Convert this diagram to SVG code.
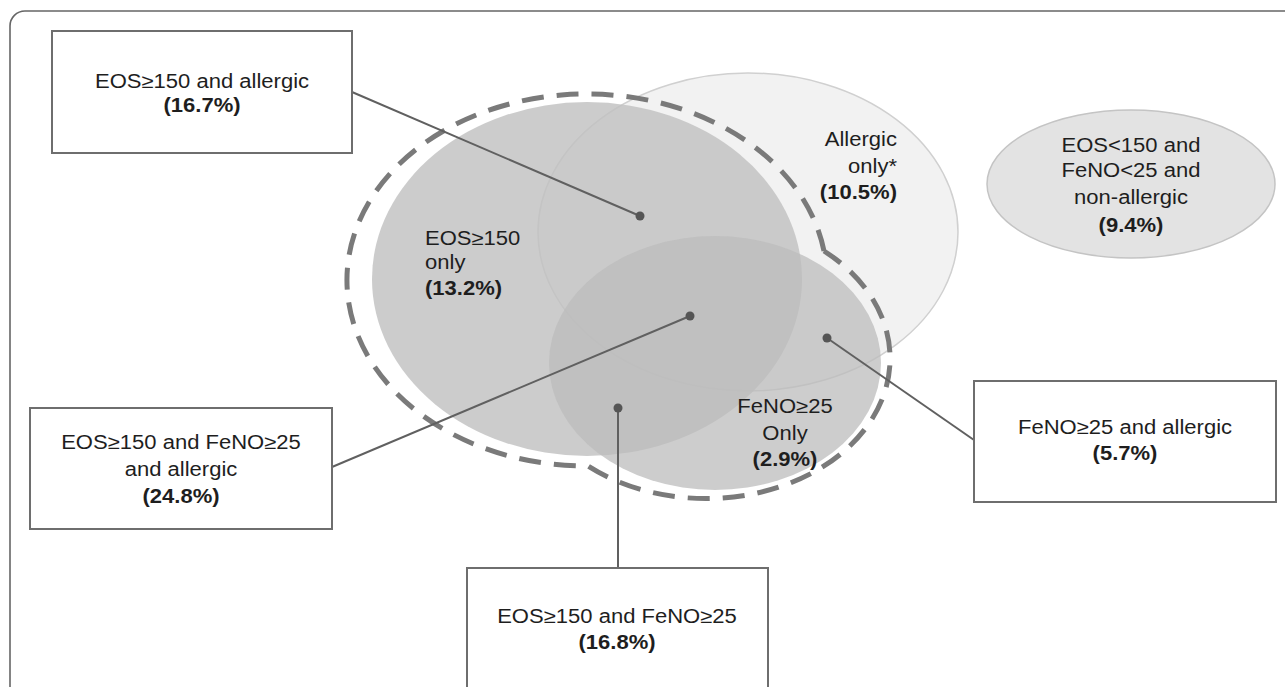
<svg xmlns="http://www.w3.org/2000/svg" width="1285" height="687" viewBox="0 0 1285 687">
<style>
text{font-family:"Liberation Sans",Arial,sans-serif;font-size:19.5px;fill:#1e1e1e}
.b{font-weight:bold}
.box{fill:#fff;stroke:#6e6e6e;stroke-width:2}
.con{stroke:#606060;stroke-width:2;fill:none}
.dot{fill:#555}
</style>
<rect x="10" y="11" width="1300" height="720" rx="15" fill="#fff" stroke="#666" stroke-width="1.6"/>
<g id="venn">
<ellipse id="allergic" cx="748" cy="232" rx="210" ry="159" fill="#f2f2f2" stroke="#d0d0d0" stroke-width="1.5"/>
<ellipse id="eos" cx="587" cy="279" rx="215" ry="177" fill="#c1c1c1" fill-opacity="0.82"/>
<ellipse id="feno" cx="715" cy="363" rx="166" ry="127" fill="#bcbcbc" fill-opacity="0.745"/>
<path id="dashed" d="M 824 251 A 240 186 0 1 0 588 466 A 184 140 0 1 0 824 251" fill="none" stroke="#7a7a7a" stroke-width="5" stroke-dasharray="22 13"/>
</g>
<g id="label-eos-only"><text transform="translate(425,244.5) scale(1.13,1)"><tspan x="0" y="0">EOS≥150</tspan><tspan x="0" dy="25">only</tspan><tspan class="b" x="0" dy="26">(13.2%)</tspan></text></g>
<g id="label-allergic-only"><text text-anchor="end" transform="translate(897,146) scale(1.13,1)"><tspan x="0" y="0">Allergic</tspan><tspan x="0" dy="27">only*</tspan><tspan class="b" x="0" dy="26">(10.5%)</tspan></text></g>
<g id="label-feno-only"><text text-anchor="middle" transform="translate(785,413) scale(1.13,1)"><tspan x="0" y="0">FeNO≥25</tspan><tspan x="0" dy="27">Only</tspan><tspan class="b" x="0" dy="26">(2.9%)</tspan></text></g>
<g id="none">
<ellipse cx="1131" cy="184" rx="144" ry="74" fill="#e3e3e3" stroke="#c4c4c4" stroke-width="1.5"/>
<text text-anchor="middle" transform="translate(1131,152) scale(1.13,1)"><tspan x="0" y="0">EOS&lt;150 and</tspan><tspan x="0" dy="25.5">FeNO&lt;25 and</tspan><tspan x="0" dy="26.5">non-allergic</tspan><tspan class="b" x="0" dy="28">(9.4%)</tspan></text>
</g>
<g id="connectors">
<line class="con" x1="352" y1="92" x2="640" y2="216"/>
<line class="con" x1="332" y1="467" x2="690" y2="316"/>
<line class="con" x1="618" y1="408" x2="618" y2="568"/>
<line class="con" x1="827" y1="338" x2="974" y2="440"/>
<circle class="dot" cx="640" cy="216" r="4.5"/>
<circle class="dot" cx="690" cy="316" r="4.5"/>
<circle class="dot" cx="618" cy="408" r="4.5"/>
<circle class="dot" cx="827" cy="338" r="4.5"/>
</g>
<g id="box-eos-allergic">
<rect class="box" x="52" y="31" width="300" height="122"/>
<text text-anchor="middle" transform="translate(202,87.5) scale(1.13,1)"><tspan x="0" y="0">EOS≥150 and allergic</tspan><tspan class="b" x="0" dy="25">(16.7%)</tspan></text>
</g>
<g id="box-eos-feno-allergic">
<rect class="box" x="30" y="408" width="302" height="121"/>
<text text-anchor="middle" transform="translate(181,449) scale(1.13,1)"><tspan x="0" y="0">EOS≥150 and FeNO≥25</tspan><tspan x="0" dy="27.5">and allergic</tspan><tspan class="b" x="0" dy="26.5">(24.8%)</tspan></text>
</g>
<g id="box-eos-feno">
<rect class="box" x="467" y="568" width="301" height="140"/>
<text text-anchor="middle" transform="translate(617,623) scale(1.13,1)"><tspan x="0" y="0">EOS≥150 and FeNO≥25</tspan><tspan class="b" x="0" dy="26">(16.8%)</tspan></text>
</g>
<g id="box-feno-allergic">
<rect class="box" x="974" y="381" width="302" height="121"/>
<text text-anchor="middle" transform="translate(1125,434) scale(1.13,1)"><tspan x="0" y="0">FeNO≥25 and allergic</tspan><tspan class="b" x="0" dy="26">(5.7%)</tspan></text>
</g>
</svg>
